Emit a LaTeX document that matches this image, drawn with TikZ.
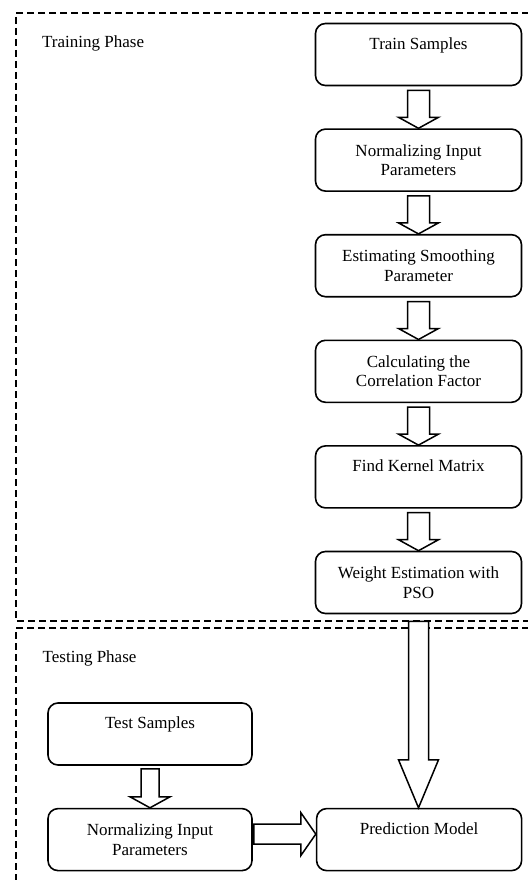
\documentclass[tikz,border=0pt]{standalone}
\usepackage{fontspec}
\setmainfont{Liberation Serif}
\usepackage{tikz}
\usetikzlibrary{positioning,calc}

% block arrow going down from the south of #1 to the north of #2
% #3 = shaft half width, #4 = head length, #5 = gap below #1
\newcommand{\blkdown}[5]{%
  \draw[blkarr] let \p1=(#1.south), \p2=(#2.north) in
    (\x1-#3,\y1-#5) -- (\x1+#3,\y1-#5) -- (\x1+#3,\y2+#4) -- (\x1+20pt,\y2+#4)
    -- (\x1,\y2) -- (\x1-20pt,\y2+#4) -- (\x1-#3,\y2+#4) -- cycle;}
% block arrow going right from the east of #1 to the west of #2
\newcommand{\blkright}[2]{%
  \draw[blkarr] let \p1=(#1.east), \p2=(#2.west) in
    (\x1+1pt,\y1-4.5pt) -- (\x2-15pt,\y1-4.5pt) -- (\x2-15pt,\y1-16pt) -- (\x2,\y1+5.5pt)
    -- (\x2-15pt,\y1+27pt) -- (\x2-15pt,\y1+15.5pt) -- (\x1+1pt,\y1+15.5pt) -- cycle;}

\begin{document}
\begin{tikzpicture}[
    x=1pt, y=1pt,
    node distance=42pt and 63pt,
    box/.style={draw, line width=1.6pt, rounded corners=10pt, minimum width=206pt, minimum height=62pt, align=center, inner sep=0pt, font=\fontsize{17}{19.5}\selectfont},
    oneline/.style={text depth=22pt},
    blkarr/.style={draw, fill=white, line width=1.5pt, line join=miter},
    phase/.style={line width=1.3pt, dash pattern=on 7pt off 4pt},
    lbl/.style={anchor=base west, inner sep=0pt, font=\fontsize{17}{19.5}\selectfont},
]
\useasboundingbox (0,0) rectangle (527,-880);

% Phase frames
\draw[phase] (540,-13) -- (16,-13) -- (16,-621) -- (540,-621);
\draw[phase] (540,-628) -- (16,-628) -- (16,-890);
\node[lbl] (trainlbl) at (42,-48) {Training Phase};
\node[lbl] (testlbl) at (42.5,-662) {Testing Phase};

% Training nodes
\node[box, oneline] (train) at (418.5,-54.5) {Train Samples};
\node[box, below=of train] (norm) {Normalizing Input\\Parameters};
\node[box, below=of norm] (smooth) {Estimating Smoothing\\Parameter};
\node[box, below=of smooth] (corr) {Calculating the\\Correlation Factor};
\node[box, oneline, below=of corr] (kernel) {Find Kernel Matrix};
\node[box, below=of kernel] (pso) {Weight Estimation with\\PSO};

% Testing nodes
\node[box, oneline, minimum width=204pt] (test) at (150,-734) {Test Samples};
\node[box, minimum width=204pt, below=of test] (tnorm) {Normalizing Input\\Parameters};
\node[box, oneline, minimum width=205pt, right=of tnorm] (pred) {Prediction Model};

% Arrows
\blkdown{train}{norm}{11pt}{11pt}{4pt}
\blkdown{norm}{smooth}{11pt}{11pt}{4pt}
\blkdown{smooth}{corr}{11pt}{11pt}{4pt}
\blkdown{corr}{kernel}{11pt}{11pt}{4pt}
\blkdown{kernel}{pso}{11pt}{11pt}{4pt}
\blkdown{pso}{pred}{10pt}{48pt}{7pt}
\blkdown{test}{tnorm}{9pt}{11pt}{3pt}
\blkright{tnorm}{pred}
\end{tikzpicture}
\end{document}
